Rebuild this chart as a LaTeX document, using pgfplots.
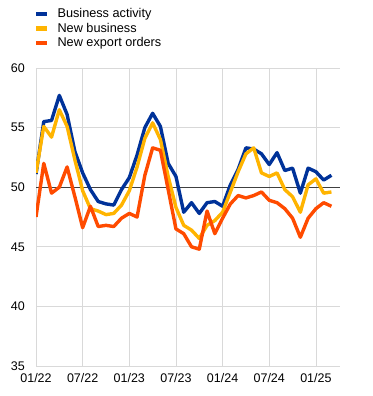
\documentclass[border=0pt]{standalone}
\usepackage{fontspec}
\setmainfont{Liberation Sans}
\usepackage{pgfplots}
\pgfplotsset{compat=1.18}
\definecolor{ecbblue}{HTML}{003299}
\definecolor{ecbyellow}{HTML}{FFB400}
\definecolor{ecborange}{HTML}{FF4B00}
\definecolor{gridgray}{HTML}{D9D9D9}
\begin{document}
\begin{tikzpicture}
\begin{axis}[
  at={(0pt,0pt)}, anchor=south west,
  scale only axis, width=304pt, height=298pt,
  xmin=0, xmax=39.1, ymin=35, ymax=60,
  xtick={0,6,12,18,24,30,36},
  xticklabels={01/22,07/22,01/23,07/23,01/24,07/24,01/25},
  ytick={35,40,45,50,55,60},
  extra y ticks={50}, extra y tick labels={},
  extra y tick style={grid style={draw=black!75, line width=0.9pt}},
  grid=major, grid style={draw=gridgray, line width=0.8pt},
  axis line style={draw=none},
  major tick length=0pt,
  /pgf/number format/assume math mode=true,
  ticklabel style={font=\fontsize{12.5}{15}\selectfont, inner sep=0pt},
  yticklabel style={anchor=east, xshift=-11pt},
  xticklabel style={anchor=north, yshift=-7pt},
  legend style={at={(-0.007,1.2013)}, anchor=north west, draw=none, fill=none,
    font=\fontsize{12.7}{15}\selectfont, inner sep=0pt, row sep=2.5pt,
    column sep=8pt,
    nodes={inner sep=0pt, text height=9.5pt, text depth=2.5pt},
    cells={anchor=west}},
  legend image code/.code={\draw[line width=4.5pt, #1] (0pt,0pt) -- (11pt,0pt);},
  line join=round,
]
\addplot[ecbblue, line width=3.4pt, mark=none] coordinates {
(0,51.1)(1,55.5)(2,55.6)(3,57.7)(4,56.1)(5,53.0)(6,51.2)(7,49.8)(8,48.8)(9,48.6)
(10,48.5)(11,49.8)(12,50.8)(13,52.7)(14,55.0)(15,56.2)(16,55.1)(17,52.0)(18,50.9)(19,47.9)
(20,48.7)(21,47.8)(22,48.7)(23,48.8)(24,48.4)(25,50.2)(26,51.5)(27,53.3)(28,53.2)(29,52.8)
(30,51.9)(31,52.9)(32,51.4)(33,51.6)(34,49.5)(35,51.6)(36,51.3)(37,50.6)(38,51.0)};
\addlegendentry{Business activity}
\addplot[ecbyellow, line width=3.4pt, mark=none] coordinates {
(0,51.2)(1,55.1)(2,54.2)(3,56.5)(4,55.1)(5,52.3)(6,49.7)(7,48.2)(8,48.0)(9,47.7)
(10,47.8)(11,48.5)(12,49.7)(13,51.7)(14,54.1)(15,55.4)(16,54.0)(17,50.9)(18,48.3)(19,46.8)
(20,46.4)(21,45.7)(22,46.8)(23,47.2)(24,47.9)(25,49.6)(26,51.3)(27,52.8)(28,53.3)(29,51.2)
(30,50.9)(31,51.2)(32,49.8)(33,49.2)(34,47.9)(35,50.2)(36,50.7)(37,49.5)(38,49.6)};
\addlegendentry{New business}
\addplot[ecborange, line width=3.4pt, mark=none] coordinates {
(0,47.5)(1,52.0)(2,49.5)(3,50.0)(4,51.7)(5,49.2)(6,46.6)(7,48.4)(8,46.7)(9,46.8)
(10,46.7)(11,47.4)(12,47.8)(13,47.5)(14,51.0)(15,53.3)(16,53.1)(17,49.8)(18,46.5)(19,46.1)
(20,45.0)(21,44.8)(22,48.0)(23,46.1)(24,47.4)(25,48.6)(26,49.3)(27,49.1)(28,49.3)(29,49.6)
(30,48.9)(31,48.7)(32,48.2)(33,47.4)(34,45.8)(35,47.4)(36,48.2)(37,48.7)(38,48.4)};
\addlegendentry{New export orders}
\end{axis}
\pgfresetboundingbox
\path[use as bounding box] (-36pt,-30pt) rectangle (336pt,366pt);
\end{tikzpicture}
\end{document}
